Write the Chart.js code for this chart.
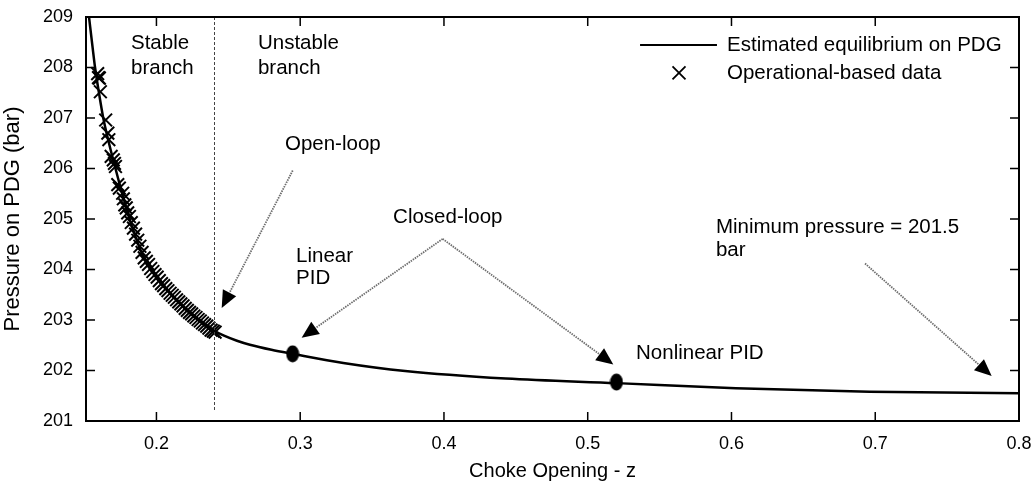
<!DOCTYPE html>
<html>
<head>
<meta charset="utf-8">
<script src="https://cdn.jsdelivr.net/npm/chart.js@4.4.1/dist/chart.umd.min.js"></script>
<style>
html,body{margin:0;padding:0;background:#fff;}
#wrap{width:1035px;height:483px;}
</style>
</head>
<body>
<div id="wrap"><canvas id="c" width="1035" height="483"></canvas></div>
<script>
// ---- data ----
const xTicks = [0.2, 0.3, 0.4, 0.5, 0.6, 0.7, 0.8];
const yTicks = [201, 202, 203, 204, 205, 206, 207, 208, 209];

const curveZ = [0.1531, 0.1555, 0.1573, 0.1600, 0.1630, 0.1670, 0.1715, 0.1767, 0.1830, 0.1909, 0.1975, 0.2049, 0.2140, 0.2231, 0.2310, 0.2393, 0.2470, 0.2560, 0.2650, 0.2800, 0.2947, 0.3300, 0.3730, 0.4430, 0.5200, 0.6030, 0.6960, 0.8000];
const curveP = [209.0, 208.42, 208.0, 207.5, 207.0, 206.5, 206.0, 205.45, 204.85, 204.26, 203.95, 203.67, 203.39, 203.14, 202.96, 202.80, 202.69, 202.59, 202.51, 202.41, 202.33, 202.15, 201.99, 201.84, 201.75, 201.65, 201.58, 201.55];

const crossZ = [0.1591, 0.1597, 0.1603, 0.1610, 0.1647, 0.1662, 0.1669, 0.1685, 0.1700, 0.1708, 0.1715, 0.1731, 0.1742, 0.1765,
  0.1770, 0.1780, 0.1790, 0.1800, 0.1812, 0.1825, 0.1840, 0.1855, 0.1870, 0.1885, 0.1900, 0.1915, 0.1930, 0.1945, 0.1960, 0.1975,
  0.1990, 0.2005, 0.2020, 0.2035, 0.2050, 0.2065, 0.2080, 0.2095, 0.2110, 0.2125, 0.2140, 0.2155, 0.2170, 0.2185, 0.2200, 0.2215,
  0.2230, 0.2245, 0.2260, 0.2275, 0.2290, 0.2305, 0.2320, 0.2335, 0.2350, 0.2365, 0.2380, 0.2395, 0.2408];
const crossP = [207.88, 207.80, 207.79, 207.52, 206.96, 206.70, 206.57, 206.24, 206.17, 206.10, 206.04, 205.68, 205.61, 205.51,
  205.40, 205.28, 205.22, 205.12, 205.05, 204.93, 204.82, 204.70, 204.58, 204.46, 204.34, 204.23, 204.16, 204.10, 204.02, 203.96,
  203.90, 203.85, 203.78, 203.72, 203.68, 203.62, 203.58, 203.53, 203.49, 203.45, 203.40, 203.36, 203.32, 203.28, 203.23, 203.19,
  203.15, 203.12, 203.08, 203.05, 203.01, 202.98, 202.94, 202.91, 202.88, 202.84, 202.80, 202.78, 202.76];

const dotZ = [0.2947, 0.5200];
const dotP = [202.33, 201.77];

const boundaryZ = 0.24;

// annotations in data units
const texts = [
  {t: 'Stable', z: 0.1823, p: 208.486},
  {t: 'branch', z: 0.1823, p: 207.99},
  {t: 'Unstable', z: 0.2706, p: 208.486},
  {t: 'branch', z: 0.2706, p: 207.99},
  {t: 'Open-loop', z: 0.2894, p: 206.47},
  {t: 'Closed-loop', z: 0.3646, p: 205.027},
  {t: 'Linear', z: 0.2971, p: 204.256},
  {t: 'PID', z: 0.2971, p: 203.821},
  {t: 'Nonlinear PID', z: 0.5336, p: 202.339},
  {t: 'Minimum pressure = 201.5', z: 0.5892, p: 204.829},
  {t: 'bar', z: 0.5892, p: 204.375}
];
const arrows = [
  {z0: 0.2948, p0: 205.96, z1: 0.2454, p1: 203.24},
  {z0: 0.3991, p0: 204.606, z1: 0.3010, p1: 202.649},
  {z0: 0.3991, p0: 204.606, z1: 0.5178, p1: 202.121},
  {z0: 0.6929, p0: 204.118, z1: 0.7810, p1: 201.89}
];
const legendItems = ['Estimated equilibrium on PDG', 'Operational-based data'];

const FONT = "'Liberation Sans', Arial, sans-serif";

// ellipse marker
const ell = document.createElement('canvas');
ell.width = 14; ell.height = 18;
{
  const g = ell.getContext('2d');
  g.fillStyle = '#000';
  g.beginPath();
  g.ellipse(7, 9, 6.5, 8.5, 0, 0, Math.PI * 2);
  g.fill();
}

const overlay = {
  id: 'overlay',
  afterDatasetsDraw(chart) {
    const ctx = chart.ctx;
    const xs = chart.scales.x, ys = chart.scales.y;
    const ca = chart.chartArea;
    const X = v => xs.getPixelForValue(v), Y = v => ys.getPixelForValue(v);
    ctx.save();
    // boundary dashed line
    ctx.strokeStyle = '#444';
    ctx.lineWidth = 1;
    ctx.setLineDash([3, 2]);
    ctx.beginPath();
    ctx.moveTo(Math.round(X(boundaryZ)) + 0.5, ca.top);
    ctx.lineTo(Math.round(X(boundaryZ)) + 0.5, Y(201.2));
    ctx.stroke();
    ctx.setLineDash([]);

    // arrows
    arrows.forEach(a => {
      const x0 = X(a.z0), y0 = Y(a.p0), x1 = X(a.z1), y1 = Y(a.p1);
      const ang = Math.atan2(y1 - y0, x1 - x0);
      const L = 17, W = 7.5;
      const bx = x1 - L * Math.cos(ang), by = y1 - L * Math.sin(ang);
      ctx.strokeStyle = '#6e6e6e';
      ctx.lineWidth = 1.8;
      ctx.setLineDash([1.5, 1]);
      ctx.beginPath();
      ctx.moveTo(x0, y0);
      ctx.lineTo(bx, by);
      ctx.stroke();
      ctx.setLineDash([]);
      ctx.fillStyle = '#000';
      ctx.beginPath();
      ctx.moveTo(x1, y1);
      ctx.lineTo(bx + W * Math.sin(ang), by - W * Math.cos(ang));
      ctx.lineTo(bx - W * Math.sin(ang), by + W * Math.cos(ang));
      ctx.closePath();
      ctx.fill();
    });

    // texts
    ctx.fillStyle = '#000';
    ctx.font = '20.5px ' + FONT;
    ctx.textAlign = 'left';
    ctx.textBaseline = 'middle';
    texts.forEach(t => ctx.fillText(t.t, X(t.z), Y(t.p)));

    // legend
    const ly1 = Y(208.447), ly2 = Y(207.893);
    ctx.strokeStyle = '#000';
    ctx.lineWidth = 2;
    ctx.beginPath();
    ctx.moveTo(X(0.5364), ly1);
    ctx.lineTo(X(0.5899), ly1);
    ctx.stroke();
    const cx = X(0.5635), r = 6.5;
    ctx.lineWidth = 1.8;
    ctx.beginPath();
    ctx.moveTo(cx - r, ly2 - r); ctx.lineTo(cx + r, ly2 + r);
    ctx.moveTo(cx + r, ly2 - r); ctx.lineTo(cx - r, ly2 + r);
    ctx.stroke();
    ctx.fillText(legendItems[0], X(0.5969), ly1);
    ctx.fillText(legendItems[1], X(0.5969), ly2);

    // frame and inward ticks
    ctx.strokeStyle = '#000';
    ctx.lineWidth = 2;
    ctx.strokeRect(ca.left, ca.top, ca.right - ca.left, ca.bottom - ca.top);
    ctx.lineWidth = 1.5;
    const tl = 9;
    ctx.beginPath();
    xTicks.forEach(v => {
      const x = X(v);
      if (x > ca.right - 2) return;
      ctx.moveTo(x, ca.bottom); ctx.lineTo(x, ca.bottom - tl);
      ctx.moveTo(x, ca.top); ctx.lineTo(x, ca.top + tl);
    });
    yTicks.forEach(v => {
      const y = Y(v);
      if (y < ca.top + 2 || y > ca.bottom - 2) return;
      ctx.moveTo(ca.left, y); ctx.lineTo(ca.left + tl, y);
      ctx.moveTo(ca.right, y); ctx.lineTo(ca.right - tl, y);
    });
    ctx.stroke();
    ctx.restore();
  }
};

new Chart(document.getElementById('c'), {
  type: 'scatter',
  data: {
    datasets: [
      {
        label: legendItems[0],
        data: curveZ.map((z, i) => ({x: z, y: curveP[i]})),
        showLine: true,
        borderColor: '#000',
        borderWidth: 2.5,
        pointRadius: 0,
        cubicInterpolationMode: 'monotone',
        order: 2
      },
      {
        label: legendItems[1],
        data: crossZ.map((z, i) => ({x: z, y: crossP[i]})),
        pointStyle: 'crossRot',
        pointRadius: 9,
        borderColor: '#000',
        borderWidth: 2,
        order: 1
      },
      {
        label: 'PID',
        data: dotZ.map((z, i) => ({x: z, y: dotP[i]})),
        pointStyle: ell,
        pointRadius: 8,
        order: 0
      }
    ]
  },
  options: {
    responsive: false,
    animation: false,
    events: [],
    layout: {padding: {top: 17, right: 16, left: 0, bottom: 0}},
    plugins: {legend: {display: false}, tooltip: {enabled: false}},
    scales: {
      x: {
        type: 'linear',
        min: 0.151,
        max: 0.8,
        afterBuildTicks: s => { s.ticks = xTicks.map(v => ({value: v})); },
        afterFit: s => { s.height = 62; s.paddingLeft = 0; s.paddingRight = 0; },
        grid: {display: false, drawTicks: false},
        border: {display: false},
        ticks: {
          color: '#000',
          font: {family: FONT, size: 18},
          padding: 12,
          maxRotation: 0,
          callback: v => String(Math.round(v * 10) / 10)
        },
        title: {
          display: true,
          text: 'Choke Opening - z',
          color: '#000',
          font: {family: FONT, size: 20},
          padding: {top: 4, bottom: 0}
        }
      },
      y: {
        type: 'linear',
        min: 201,
        max: 209,
        afterBuildTicks: s => { s.ticks = yTicks.map(v => ({value: v})); },
        afterFit: s => { s.width = 86; s.paddingTop = 0; s.paddingBottom = 0; },
        grid: {display: false, drawTicks: false},
        border: {display: false},
        ticks: {
          color: '#000',
          font: {family: FONT, size: 18},
          padding: 13
        },
        title: {
          display: true,
          text: 'Pressure on PDG (bar)',
          color: '#000',
          font: {family: FONT, size: 22},
          padding: {top: 0, bottom: 4}
        }
      }
    }
  },
  plugins: [overlay]
});
</script>
</body>
</html>
